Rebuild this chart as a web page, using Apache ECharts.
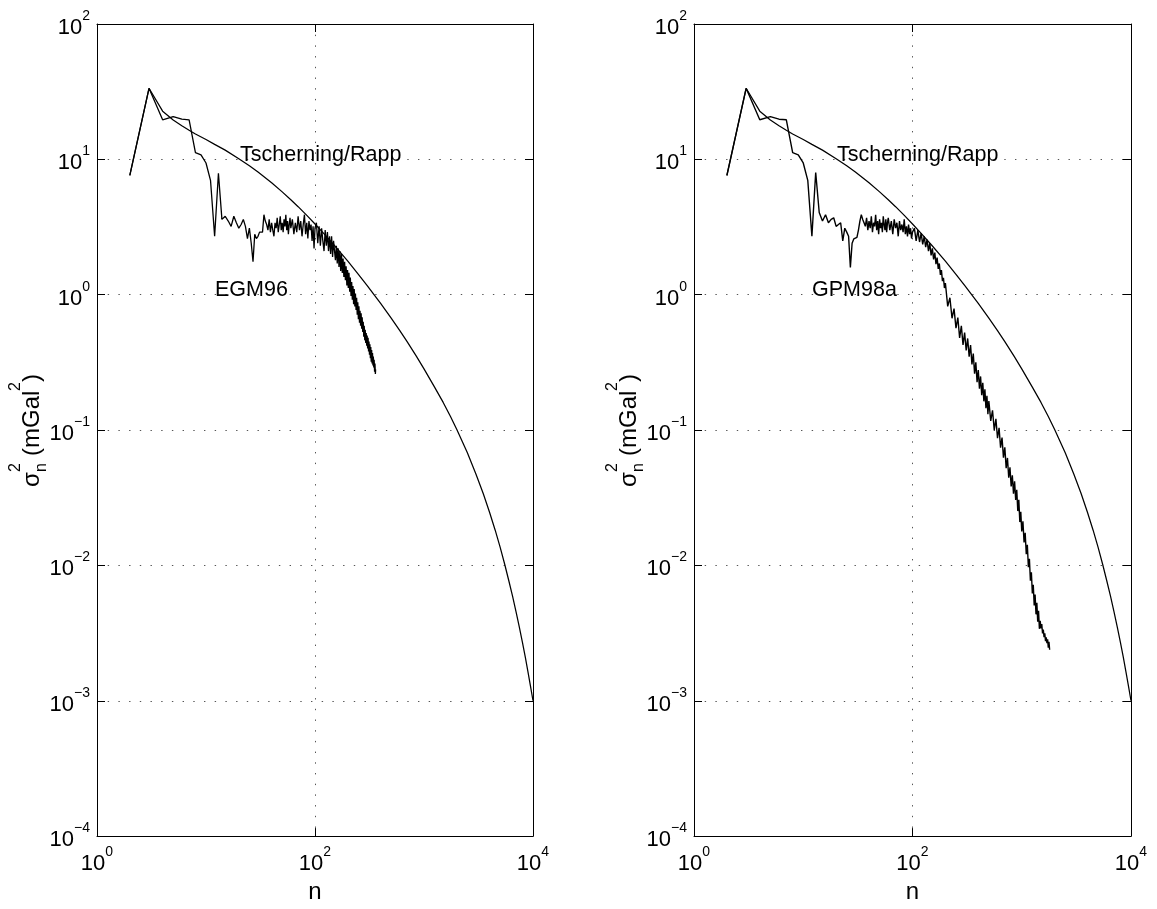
<!DOCTYPE html>
<html><head><meta charset="utf-8">
<script src="https://cdn.jsdelivr.net/npm/echarts@6/dist/echarts.min.js"></script>
<style>html,body{margin:0;padding:0;background:#fff}#c{width:1157px;height:909px}</style>
</head><body><div id="c"></div>
<script>
// Tscherning/Rapp model curve
const trDeg = [2,3,4,5,6,7,8,10,12,15,20,25,30,40,50,60,70,85,100,120,150,200,250,300,400,500,600,700,850,1000,1250,1500,1750,2000,2500,3000,3500,4000,4500,5000,5500,6000,6500,7000,7500,8000,8500,9000,9500,10000];
const trVal = [7.6,33.5,22.7,19.5,17.7,16.4,15.4,14.0,12.9,11.7,10.1,8.96,8.06,6.71,5.75,5.03,4.47,3.82,3.33,2.84,2.32,1.77,1.415,1.173,0.862,0.671,0.542,0.4495,0.3515,0.283,0.2075,0.16,0.126,0.101,0.068,0.0472,0.0338,0.0246,0.0182,0.0136,0.0102,0.0077,0.0059,0.00452,0.00349,0.0027,0.0021,0.00163,0.00127,0.001];

// EGM96 degree variances
const egmDeg = [2,3,4,5,6,7,8,9,10,11,12,13,14,15,16,17,18,19,20,21,22,23,24,25,26,27,28,29,30,31,32,33,34,35,36,37,38,39,40,41,42,43,44,45,46,47,48,49,50,51,52,53,54,55,56,57,58,59,60,
62,64,66,68,70,72,74,76,78,80,82,84,86,88,90,92,94,96,98,100,
103,106,109,112,115,118,121,124,127,130,133,136,139,142,145,148,151,154,157,160,163,166,169,172,175,178,181,184,187,190,193,196,199,202,205,208,211,214,217,220,223,226,229,232,235,238,241,244,247,250,253,256,259,262,265,268,271,274,277,280,283,286,289,292,295,298,301,304,307,310,313,316,319,322,325,328,331,334,337,340,343,346,349,352,355,358,360];
const egmVal = [7.6,33.5,19.6,20.7,19.8,19.6,11.2,10.8,9.4,7.0,2.7,7.9,3.6,3.8,3.5,3.2,3.8,3.4,3.1,3.3,3.6,3.2,2.6,3.1,2.4,1.75,2.8,2.6,2.7,2.9,3.0,2.9,3.9,3.5,3.3,3.0,3.6,2.9,3.4,3.0,2.7,3.4,3.1,3.7,2.9,3.3,3.8,3.0,3.4,2.9,3.6,3.2,3.9,3.0,3.5,2.8,3.3,3.7,3.1,
3.6,2.8,3.4,2.9,3.8,3.0,3.5,2.7,3.3,3.9,2.8,3.4,2.6,3.5,3.0,3.3,2.5,3.2,2.2,3.1,
3.4,2.4,3.2,2.3,3.1,2.5,
2.1,3.0,2.3,2.9,2.1,2.7,
2.0,2.7,1.9,2.5,
2.5,1.8,2.3,1.7,2.2,1.6,2.1,
1.5,2.0,1.45,1.85,1.35,1.75,1.28,1.62,
1.17,1.52,1.12,1.45,1.05,1.34,0.98,1.24,0.92,1.16,
0.85,1.1,0.82,1.02,0.77,0.95,0.71,0.88,0.66,0.82,0.62,0.76,
0.59,0.73,0.56,0.68,0.53,0.63,0.49,0.59,0.46,0.55,0.44,0.52,0.42,
0.5,0.4,0.48,0.38,0.45,0.36,0.43,0.34,0.41,0.32,0.39,
0.31,0.37,0.3,0.35,0.29,0.33,0.27,0.31,0.26,
0.28];

// GPM98a degree variances
const gpmDeg = [2,3,4,5,6,7,8,9,10,11,12,13,14,15,16,17,18,19,20,21,22,23,24,25,26,27,28,29,30,31,32,33,34,35,36,37,38,39,40,41,42,43,44,45,46,47,48,49,50,51,52,53,54,55,56,57,58,59,60,
62,64,66,68,70,72,74,76,78,80,82,84,86,88,90,92,94,96,98,100,
104,108,112,116,120,124,128,132,136,140,144,148,152,156,160,164,168,172,176,180,184,188,192,196,
200,210,220,230,240,250,260,270,280,290,300,310,320,330,340,350,360,370,380,390,400,410,420,430,440,450,460,470,480,490,500,
520,540,560,580,600,620,640,660,680,700,720,740,760,780,800,820,840,860,880,900,920,940,960,980,1000,
1025,1050,1075,1100,1125,1150,1175,1200,1225,1250,1275,1300,1325,1350,1375,1400,1425,1450,1475,1500,1525,1550,1575,1600,1625,1650,1675,1700,1725,1750,1775,1800];
const gpmVal = [7.6,33.5,19.6,20.7,19.8,19.6,11.2,10.8,9.4,7.0,2.7,8.0,4.05,3.5,3.9,3.4,3.6,3.7,3.2,3.3,3.4,2.5,3.1,2.9,2.7,1.59,2.4,2.58,2.6,2.65,3.0,3.5,3.9,3.6,3.4,3.2,3.7,3.0,3.5,3.1,3.8,2.9,3.4,3.2,3.9,3.0,3.5,2.8,3.6,3.1,3.4,2.9,3.8,3.3,3.0,3.6,2.9,3.4,3.7,
3.0,3.5,2.8,3.6,3.1,3.4,2.7,3.5,3.0,3.3,2.9,3.6,2.8,3.2,2.7,3.3,2.8,3.1,2.6,2.9,
3.1,2.5,3.0,2.45,2.85,2.35,2.7,2.25,2.55,2.1,2.4,1.95,2.2,1.82,2.05,1.68,1.88,1.55,1.7,1.4,1.52,1.26,1.33,1.12,
1.22,0.82,0.95,0.67,0.79,0.566,0.678,0.479,0.588,0.426,0.525,0.387,0.475,0.348,0.424,0.305,0.367,0.261,0.316,0.226,0.277,0.202,0.249,0.181,0.223,0.163,0.2,0.145,0.179,0.131,0.164,
0.117,0.140,0.100,0.121,0.087,0.104,0.074,0.088,0.0626,0.0746,0.0522,0.0622,0.0444,0.0531,0.0383,0.0463,0.0339,0.0418,0.0305,0.0362,0.0252,0.0305,0.0209,0.0249,0.0178,
0.0212,0.0148,0.0174,0.0121,0.0142,0.0097,0.0112,0.0077,0.0089,0.0062,0.0072,0.00505,0.0061,0.00435,0.0053,0.00383,0.00463,0.0034,0.00389,0.00342,0.00368,0.00314,0.00336,0.00295,0.00315,0.00276,0.00294,0.00266,0.00284,0.00247,0.00273,0.00238];

const xTicks = [1, 100, 10000];
const yTicks = [1e-4, 1e-3, 1e-2, 1e-1, 1, 10, 100];
const labels = { model: 'Tscherning/Rapp', left: 'EGM96', right: 'GPM98a', xName: 'n' };

const FONT = '"Liberation Sans", Arial, Helvetica, sans-serif';
const pairs = (a, b) => a.map((n, i) => [n, b[i]]);
const rich = {
  b: { fontSize: 22, lineHeight: 30, verticalAlign: 'bottom', fontFamily: FONT, color: '#000' },
  s: { fontSize: 14, lineHeight: 14, verticalAlign: 'top', fontFamily: FONT, color: '#000' }
};
function fmt(v) {
  const e = Math.round(Math.log(v) / Math.LN10);
  return '{b|10}{s|' + (e < 0 ? '\u2212' + (-e) : e) + '}';
}
const grid = [
  { left: 97, top: 24, width: 436, height: 815 },
  { left: 694, top: 24, width: 437, height: 815 }
];
const lineSt = { color: '#000', width: 1 };
const gridSt = { show: true, lineStyle: { color: '#555', type: [1.4, 9.3], width: 1 } };
function xAx(g, main) {
  return {
    type: 'log', logBase: 10, gridIndex: g, min: xTicks[0], max: xTicks[xTicks.length - 1],
    position: main ? 'bottom' : 'top',
    axisLine: { show: true, onZero: false, lineStyle: lineSt },
    axisTick: { show: true, inside: true, length: 8, lineStyle: lineSt, customValues: xTicks },
    minorTick: { show: false },
    axisLabel: main ? { show: true, margin: 9, formatter: fmt, rich: rich, customValues: xTicks, showMinLabel: true, showMaxLabel: true } : { show: false },
    splitLine: main ? gridSt : { show: false },
    name: main ? labels.xName : '', nameLocation: 'middle', nameGap: 43,
    nameTextStyle: { fontSize: 24, fontFamily: FONT, color: '#000' }
  };
}
function yAx(g, main) {
  return {
    type: 'log', logBase: 10, gridIndex: g, min: yTicks[0], max: yTicks[yTicks.length - 1],
    position: main ? 'left' : 'right',
    axisLine: { show: true, onZero: false, lineStyle: lineSt },
    axisTick: { show: true, inside: true, length: 8, lineStyle: lineSt, customValues: yTicks },
    minorTick: { show: false },
    axisLabel: main ? { show: true, margin: 7, formatter: fmt, rich: rich, customValues: yTicks, showMinLabel: true, showMaxLabel: true } : { show: false },
    splitLine: main ? gridSt : { show: false }
  };
}
function ser(name, xi, yi, data, w) {
  return { name: name, type: 'line', xAxisIndex: xi, yAxisIndex: yi, data: data, symbol: 'none', showSymbol: false,
    lineStyle: { color: '#000', width: w }, silent: true, clip: true, z: 5 };
}
function txt(x, y, s) {
  return { type: 'text', x: x, y: y, z: 10, style: { text: s, fontSize: 21.5, fontFamily: FONT, fill: '#000', align: 'left', verticalAlign: 'middle' } };
}
function t2(x, y, s, fs) {
  return { type: 'text', x: x, y: y, style: { text: s, fontSize: fs, fontFamily: FONT, fill: '#000', align: 'left', verticalAlign: 'middle' } };
}
function yLabel(x0) {
  return { type: 'group', x: x0, y: 487, rotation: Math.PI / 2, z: 10, children: [
    t2(0, -8, '\u03c3', 24),
    t2(15, -24, '2', 16),
    t2(15, 2, 'n', 16),
    t2(31, -8, '(mGal', 24),
    t2(96, -24, '2', 16),
    t2(105, -8, ')', 24)
  ] };
}
const chart = echarts.init(document.getElementById('c'), null, { renderer: 'canvas' });
chart.setOption({
  animation: false,
  backgroundColor: '#fff',
  textStyle: { fontFamily: FONT },
  grid: grid,
  xAxis: [xAx(0, true), xAx(0, false), xAx(1, true), xAx(1, false)],
  yAxis: [yAx(0, true), yAx(0, false), yAx(1, true), yAx(1, false)],
  series: [
    ser(labels.model, 0, 0, pairs(trDeg, trVal), 1.25),
    ser(labels.left, 0, 0, pairs(egmDeg, egmVal), 1.3),
    ser(labels.model, 2, 2, pairs(trDeg, trVal), 1.25),
    ser(labels.right, 2, 2, pairs(gpmDeg, gpmVal), 1.4)
  ],
  graphic: [
    txt(240, 155, labels.model),
    txt(215, 290, labels.left),
    txt(837, 155, labels.model),
    txt(812, 290, labels.right),
    yLabel(40),
    yLabel(637)
  ]
});
</script></body></html>
